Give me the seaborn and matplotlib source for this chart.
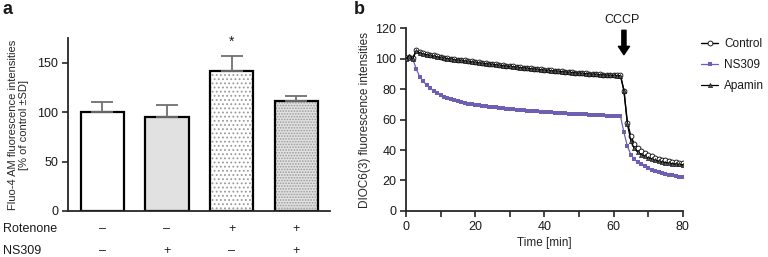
import matplotlib
matplotlib.use("Agg")
import numpy as np
import pandas as pd
from matplotlib import pyplot as plt
import seaborn as sns

# panel a: Fluo-4 AM intensities (% of control), SD
conditions = ["ctrl", "ns309", "rot", "rot_ns309"]
fluo_means = [100, 95, 142, 111]
fluo_sd = [10, 12, 15, 5]
rotenone_signs = ["\u2013", "\u2013", "+", "+"]
ns309_signs = ["\u2013", "+", "\u2013", "+"]
bar_faces = ["white", "#e1e1e1", "white", "#e1e1e1"]
bar_hatches = ["", "", "....", "......"]

# panel b: DIOC6(3) time course, one point per minute
time_min = list(range(0, 81))
control = [100.5, 101, 100.5, 105.5, 104, 103.5, 103, 102.5, 102, 101.5, 101,
           100.6, 100.3, 100, 99.6, 99.3, 99, 98.7, 98.4, 98.1, 97.8,
           97.5, 97.2, 97, 96.7, 96.4, 96.1, 95.9, 95.6, 95.3, 95.1,
           94.8, 94.6, 94.3, 94.1, 93.8, 93.6, 93.3, 93.1, 92.9, 92.6,
           92.4, 92.2, 92, 91.8, 91.6, 91.4, 91.2, 91, 90.8, 90.6,
           90.4, 90.3, 90.1, 89.9, 89.8, 89.6, 89.5, 89.3, 89.2, 89.1,
           89, 88.9, 79, 58, 49, 44, 41.5, 39.5, 38, 36.8,
           35.8, 35, 34.3, 33.7, 33.2, 32.8, 32.4, 32, 31.7, 31.4]
ns309 = [99.5, 99.5, 99.5, 93, 88, 85, 82.5, 80.5, 78.8, 77.3, 76,
         75, 74.1, 73.3, 72.6, 72, 71.4, 70.9, 70.4, 70, 69.6,
         69.3, 69, 68.7, 68.4, 68.1, 67.9, 67.6, 67.4, 67.1, 66.9,
         66.7, 66.5, 66.3, 66.1, 65.9, 65.7, 65.5, 65.3, 65.2, 65,
         64.8, 64.7, 64.5, 64.4, 64.2, 64.1, 63.9, 63.8, 63.7, 63.5,
         63.4, 63.3, 63.2, 63.1, 62.9, 62.8, 62.7, 62.6, 62.5, 62.4,
         62.3, 62.2, 51.5, 42.5, 37, 34, 32, 30.5, 29.2, 28.1,
         27.2, 26.4, 25.6, 25, 24.4, 23.9, 23.4, 23, 22.6, 22.3]
apamin = [100, 101.5, 100, 105, 103.6, 103, 102.5, 102, 101.6, 101.1, 100.7,
          100.3, 100, 99.6, 99.3, 99, 98.7, 98.4, 98.1, 97.8, 97.5,
          97.2, 96.9, 96.7, 96.4, 96.1, 95.9, 95.6, 95.4, 95.1, 94.8,
          94.6, 94.3, 94.1, 93.8, 93.6, 93.3, 93.1, 92.9, 92.6, 92.4,
          92.2, 92, 91.8, 91.6, 91.4, 91.2, 91, 90.8, 90.6, 90.4,
          90.2, 90.1, 89.9, 89.7, 89.6, 89.4, 89.3, 89.1, 89, 88.9,
          88.8, 88.7, 79, 57, 46, 41, 38.5, 37, 35.8, 34.8,
          34, 33.3, 32.7, 32.2, 31.8, 31.4, 31.1, 30.8, 30.5, 30.3]
cccp_time = 63

sns.set_style("ticks")
plt.rcParams['font.family'] = ['Liberation Sans', 'DejaVu Sans']
plt.rcParams['hatch.linewidth'] = 0.8
plt.rcParams['text.color'] = '#1a1a1a'
plt.rcParams['xtick.labelcolor'] = '#1a1a1a'
plt.rcParams['ytick.labelcolor'] = '#1a1a1a'

fs = 9
fig = plt.figure(figsize=(7.68, 2.57), dpi=100)
ax_a = fig.add_axes([0.0885, 0.179, 0.341, 0.673])
ax_b = fig.add_axes([0.5286, 0.179, 0.3604, 0.712])

# ---- panel a ----
df_a = pd.DataFrame({"cond": conditions, "mean": fluo_means})
# hatch layer (gray dots), then black outlines on top
sns.barplot(data=df_a, x="cond", y="mean", hue="cond", palette=bar_faces,
            width=0.67, errorbar=None, legend=False, ax=ax_a,
            edgecolor="#9a9a9a", linewidth=0)
for p, h in zip(ax_a.patches, bar_hatches):
    p.set_hatch(h)
sns.barplot(data=df_a, x="cond", y="mean", width=0.67, errorbar=None,
            fill=False, ax=ax_a, edgecolor="black", linewidth=1.6)
ax_a.errorbar(range(len(conditions)), fluo_means,
              yerr=[np.zeros(len(fluo_sd)), fluo_sd], fmt="none",
              ecolor="#707070", elinewidth=1.3, capsize=8, capthick=1.3,
              zorder=1)
ax_a.text(2, 171, "*", ha="center", va="center", fontsize=10)
ax_a.set_xlim(-0.53, 3.52)
ax_a.set_ylim(0, 175)
ax_a.set_yticks([0, 50, 100, 150])
ax_a.set_xticks([])
ax_a.set_xlabel("")
ax_a.set_ylabel("Fluo-4 AM fluorescence intensities\n[% of control \u00b1SD]",
                fontsize=8, linespacing=1.2)
ax_a.yaxis.set_label_coords(-0.148, 0.5)
ax_a.tick_params(axis="y", labelsize=fs, length=4, width=1.2, pad=3)
sns.despine(ax=ax_a)
for s in ["left", "bottom"]:
    ax_a.spines[s].set_linewidth(1.3)
trans = ax_a.get_xaxis_transform()
for i, (r, n) in enumerate(zip(rotenone_signs, ns309_signs)):
    ax_a.text(i, -0.104, r, transform=trans, ha="center", va="center", fontsize=fs)
    ax_a.text(i, -0.231, n, transform=trans, ha="center", va="center", fontsize=fs)
fig.text(0.004, 1 - 229 / 257, "Rotenone", ha="left", va="center", fontsize=fs)
fig.text(0.004, 1 - 251 / 257, "NS309", ha="left", va="center", fontsize=fs)
fig.text(0.003, 1 - 10 / 257, "a", ha="left", va="center", fontsize=13, fontweight="bold")
fig.text(0.461, 1 - 10 / 257, "b", ha="left", va="center", fontsize=13, fontweight="bold")

# ---- panel b ----
purple = "#6c60b2"
sns.lineplot(x=time_min, y=control, ax=ax_b, color="black", linewidth=1.0,
             marker="o", markersize=3.5, markerfacecolor="white",
             markeredgecolor="black", markeredgewidth=0.6, label="Control", zorder=3)
sns.lineplot(x=time_min, y=ns309, ax=ax_b, color=purple, linewidth=0.9,
             marker="s", markersize=3.3, markerfacecolor=purple,
             markeredgecolor=purple, markeredgewidth=0, label="NS309", zorder=2)
sns.lineplot(x=time_min, y=apamin, ax=ax_b, color="black", linewidth=0.9,
             marker="^", markersize=3, markerfacecolor="#555555",
             markeredgecolor="black", markeredgewidth=0.4, label="Apamin", zorder=4)
ax_b.set_xlim(0, 80)
ax_b.set_ylim(0, 120)
ax_b.set_xticks(range(0, 81, 10))
ax_b.set_xticklabels([str(t) if t % 20 == 0 else "" for t in range(0, 81, 10)])
ax_b.set_yticks(range(0, 121, 20))
ax_b.set_xlabel("Time [min]", fontsize=8.5, labelpad=3)
ax_b.set_ylabel("DIOC6(3) fluorescence intensities", fontsize=8.5)
ax_b.yaxis.set_label_coords(-0.128, 0.5)
ax_b.tick_params(labelsize=fs, length=4, width=1.2, pad=3)
sns.despine(ax=ax_b)
for s in ["left", "bottom"]:
    ax_b.spines[s].set_linewidth(1.3)
ax_b.annotate("", xy=(cccp_time, 102.5), xytext=(cccp_time, 118.5),
              arrowprops=dict(facecolor="black", edgecolor="black", width=3,
                              headwidth=8, headlength=6), annotation_clip=False)
ax_b.text(cccp_time - 0.5, 125.5, "CCCP", ha="center", va="center", fontsize=fs,
          clip_on=False)
leg = ax_b.legend(loc="upper left", bbox_to_anchor=(1.05, 0.97), frameon=False,
                  fontsize=8.5, handlelength=1.45, labelspacing=0.75,
                  handletextpad=0.5, borderaxespad=0)

fig.savefig("out.png", dpi=100)
